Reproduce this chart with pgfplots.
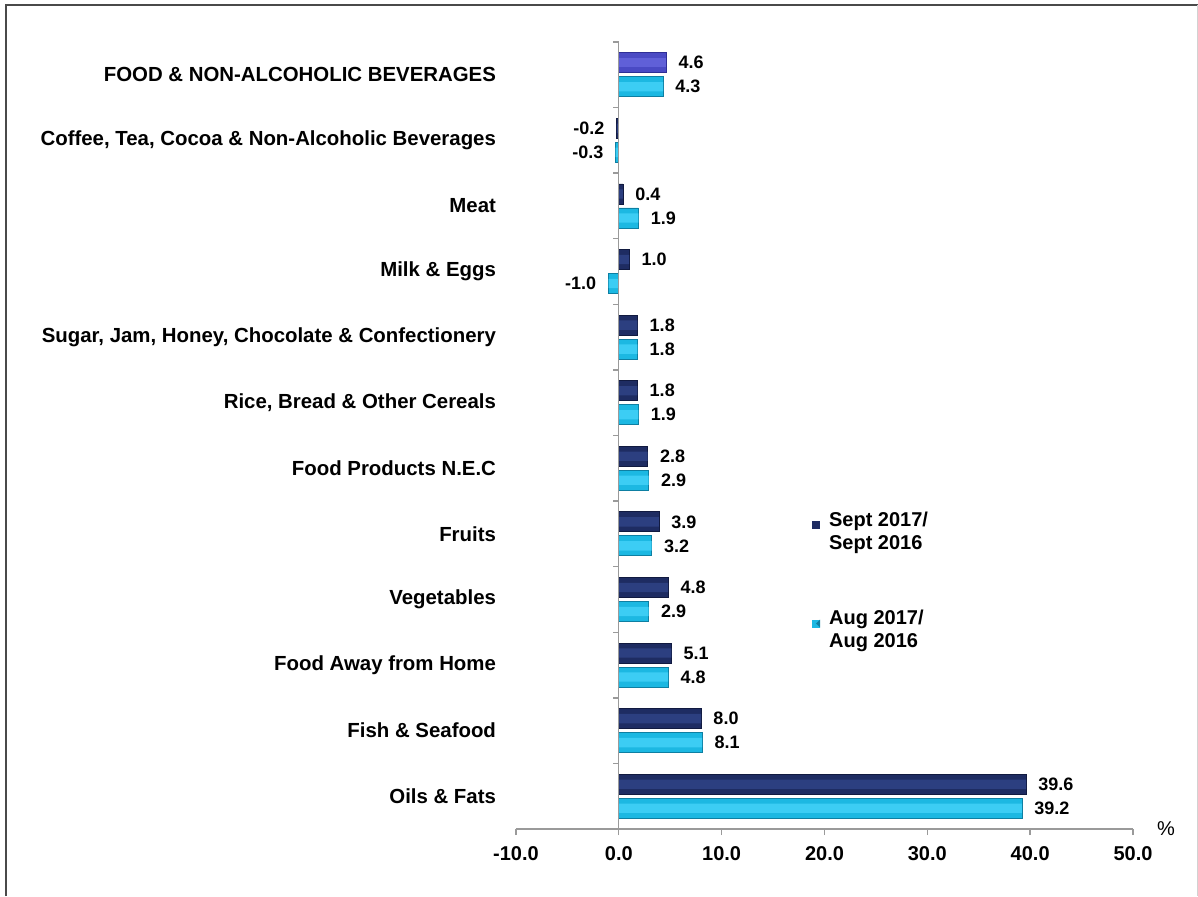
\documentclass[border=0pt]{standalone}
\usepackage{pgfplots}
\pgfplotsset{compat=1.18}
\usepackage{fontspec}
\setmainfont{Liberation Sans}

\definecolor{axgray}{HTML}{9A9A9A}
\definecolor{framegray}{HTML}{4A4A4A}
\definecolor{navy}{HTML}{1E2C62}
\definecolor{navyedge}{HTML}{111A40}
\definecolor{navylight}{HTML}{2C3F80}
\definecolor{cyanbar}{HTML}{1CB8E2}
\definecolor{cyanedge}{HTML}{0E7FA2}
\definecolor{cyanlight}{HTML}{3CCDF4}
\definecolor{purbar}{HTML}{4A4AC4}
\definecolor{puredge}{HTML}{2E2E96}
\definecolor{purlight}{HTML}{6060D8}

\pgfplotstableread{
y x
10 -0.2
9 0.4
8 1.0
7 1.8
6 1.8
5 2.8
4 3.9
3 4.8
2 5.1
1 8.0
0 39.6
}\septdata

\pgfplotstableread{
y x
11 4.3
10 -0.3
9 1.9
8 -1.0
7 1.8
6 1.9
5 2.9
4 3.2
3 2.9
2 4.8
1 8.1
0 39.2
}\augdata

\pgfplotstableread{
y x
11 4.6
}\fooddata

\begin{document}
\begin{tikzpicture}
% page = 1198 x 896 px at 0.75pt per px, axis origin at px (516, 829)
\path[use as bounding box] (-387pt,-50.25pt) rectangle (511.5pt,621.75pt);
\draw[line width=1.5pt, framegray] (-382.5pt,-50.25pt) -- (-382.5pt,618pt) -- (511.5pt,618pt);
\draw[gray!35] (510.9pt,618pt) -- (510.9pt,-50.25pt);

\begin{axis}[
  at={(0pt,0pt)}, anchor=south west,
  scale only axis,
  width=462.75pt, height=590.25pt,
  xmin=-10, xmax=50, ymin=-0.5, ymax=11.5,
  clip=false,
  xbar, bar width=15pt,
  axis x line*=bottom, axis y line*=left,
  y axis line style={draw=none}, ytick style={draw=none},
  x axis line style={draw=axgray, line width=1pt},
  xtick style={draw=axgray, line width=1pt},
  tick align=outside, major tick length=4.5pt,
  xtick={-10,0,...,50},
  /pgf/number format/assume math mode=true,
  x tick label style={font=\bfseries\fontsize{15}{18}\selectfont, yshift=-5pt,
    /pgf/number format/.cd, fixed, fixed zerofill, precision=1},
  ytick={0,...,11},
  yticklabels={Oils \& Fats, Fish \& Seafood, Food Away from Home, Vegetables,
    Fruits, Food Products N.E.C, {Rice, Bread \& Other Cereals},
    {Sugar, Jam, Honey, Chocolate \& Confectionery}, Milk \& Eggs, Meat,
    {Coffee, Tea, Cocoa \& Non-Alcoholic Beverages},
    FOOD \& NON-ALCOHOLIC BEVERAGES},
  y tick label style={font=\bfseries\fontsize{15.3}{18}\selectfont, anchor=east, xshift=-7pt},
  nodes near coords={\pgfmathprintnumber[fixed,fixed zerofill,precision=1]{\pgfplotspointmeta}},
  nodes near coords align={horizontal},
  nodes near coords style={font=\bfseries\fontsize{13.5}{16}\selectfont, text=black,
    inner xsep=9pt, inner ysep=0pt},
  point meta=explicit,
  legend style={draw=none, fill=none, at={(rel axis cs:0.473,0.407)}, anchor=north west,
    font=\bfseries\fontsize{15}{17.25}\selectfont, row sep=44pt,
    nodes={align=left, inner sep=0pt}},
  legend cell align=left,
]
\addplot[bar shift=9pt, fill=navy, draw=navyedge, line width=0.6pt,
  legend image code/.code={\path[draw=none, fill=none] (0pt,0pt) -- (12.75pt,0pt);
    \fill[navy, draw=none] (0pt,1.5pt) rectangle (6pt,7.5pt);}]
  table[x=x, y=y, meta=x] {\septdata};
\addlegendentry{Sept 2017/\\Sept 2016}
\addplot[bar shift=-9pt, fill=cyanbar, draw=cyanedge, line width=0.6pt,
  legend image code/.code={\path[draw=none, fill=none] (0pt,0pt) -- (12.75pt,0pt);
    \fill[cyanbar, draw=none] (0pt,1.5pt) rectangle (6pt,7.5pt);
    \fill[cyanedge, draw=none] (6pt,1.5pt) -- (6pt,7.5pt) -- (3pt,4.5pt) -- cycle;}]
  table[x=x, y=y, meta=x] {\augdata};
\addlegendentry{Aug 2017/\\Aug 2016}
\addplot[bar shift=9pt, fill=purbar, draw=puredge, line width=0.6pt, forget plot]
  table[x=x, y=y, meta=x] {\fooddata};
% lighter middle band of each bar, from the same values
\addplot[bar shift=9pt, bar width=7pt, fill=navylight, draw=none, forget plot,
  nodes near coords={}] table[x=x, y=y, meta=x] {\septdata};
\addplot[bar shift=-9pt, bar width=7pt, fill=cyanlight, draw=none, forget plot,
  nodes near coords={}] table[x=x, y=y, meta=x] {\augdata};
\addplot[bar shift=9pt, bar width=7pt, fill=purlight, draw=none, forget plot,
  nodes near coords={}] table[x=x, y=y, meta=x] {\fooddata};

% y axis at zero with ticks between categories
\draw[axgray, line width=1pt] (axis cs:0,-0.5) -- (axis cs:0,11.5);
\pgfplotsinvokeforeach{-0.5,0.5,...,11.5}{
  \draw[axgray, line width=1pt] (axis cs:0,#1) -- ++(-4.5pt,0pt);
}
\node[font=\fontsize{15}{18}\selectfont] at (rel axis cs:1.0535,0) {\%};
\end{axis}
\end{tikzpicture}
\end{document}
